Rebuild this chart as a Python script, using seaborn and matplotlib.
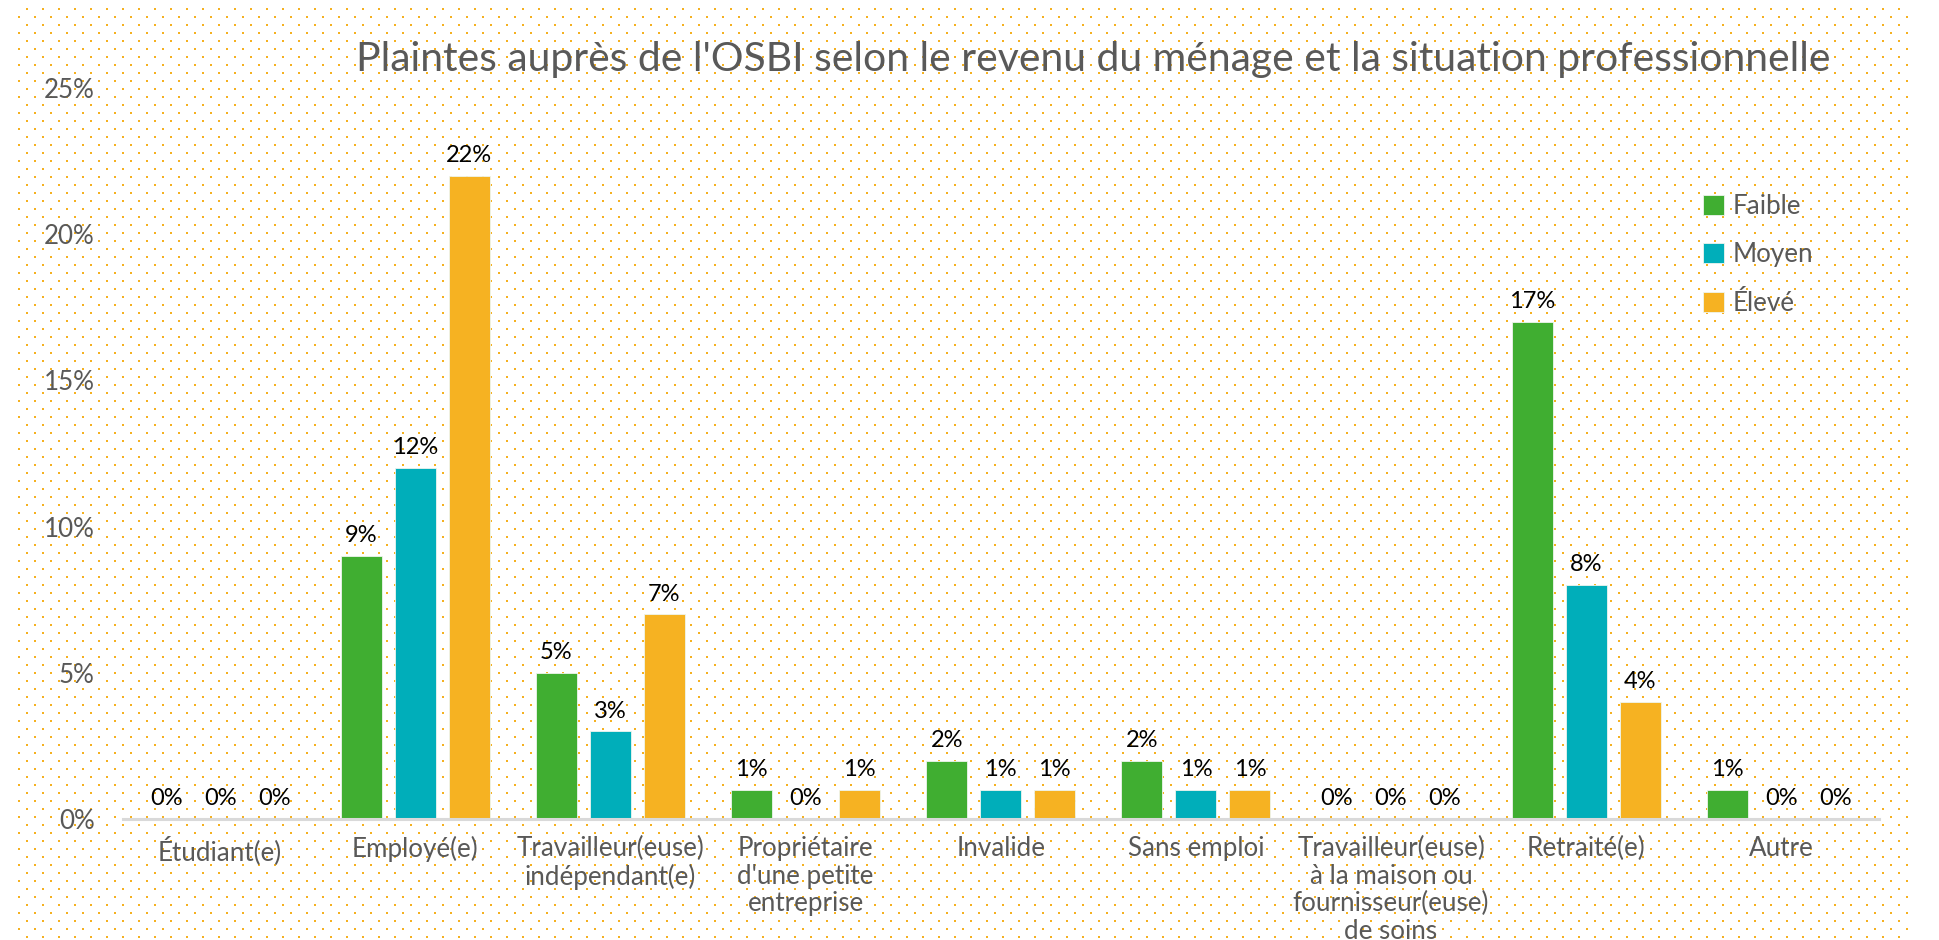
import numpy as np
import pandas as pd
import matplotlib
matplotlib.use("Agg")
import matplotlib.pyplot as plt
import seaborn as sns

# données (%)
categories = ["Étudiant(e)", "Employé(e)", "Travailleur(euse)\nindépendant(e)",
              "Propriétaire\nd'une petite\nentreprise", "Invalide", "Sans emploi",
              "Travailleur(euse)\nà la maison ou\nfournisseur(euse)\nde soins",
              "Retraité(e)", "Autre"]
revenus = ["Faible", "Moyen", "Élevé"]
faible = [0, 9, 5, 1, 2, 2, 0, 17, 1]
moyen = [0, 12, 3, 0, 1, 1, 0, 8, 0]
eleve = [0, 22, 7, 1, 1, 1, 0, 4, 0]
yticks = [0, 5, 10, 15, 20, 25]

couleurs = ["#40AE31", "#00AEBA", "#F6B222"]
gris = "#595959"

df = pd.DataFrame({
    "situation": categories * 3,
    "revenu": [r for r in revenus for _ in categories],
    "pct": faible + moyen + eleve,
})

sns.set_style("white")
plt.rcParams["font.family"] = ["Lato", "DejaVu Sans"]

fig = plt.figure(figsize=(19.39, 9.40), dpi=100)

# fond à pois orange (motif en quinconce)
bg = fig.add_axes([0, 0, 1, 1], zorder=0)
bg.set_xlim(0, 1939)
bg.set_ylim(940, 0)
bg.axis("off")
for x0, y0 in [(26.7, 8.7), (18.7, 16.7)]:
    gx, gy = np.meshgrid(np.arange(x0, 1912, 16), np.arange(y0, 940, 16))
    bg.scatter(gx.ravel(), gy.ravel(), s=2.4, marker="s", color="#F5B120", linewidths=0)

ax = fig.add_axes([0.0632, 0.1287, 0.9058, 0.7777], zorder=1)
ax.patch.set_alpha(0)

sns.barplot(data=df, x="situation", y="pct", hue="revenu", hue_order=revenus,
            palette=couleurs, saturation=1, width=0.83, gap=0.24, ax=ax,
            edgecolor="#EEF5EE", linewidth=0.6)

for cont, vals in zip(ax.containers, [faible, moyen, eleve]):
    ax.bar_label(cont, labels=[f"{v}%" for v in vals], padding=7,
                 fontsize=17, color="black")

ax.set_xlim(-0.5, 8.5)
ax.set_ylim(0, 25)
ax.set_yticks(yticks)
ax.set_yticklabels([f"{t}%" for t in yticks])
ax.tick_params(axis="y", length=0, pad=20, labelsize=18.7, labelcolor=gris)
ax.tick_params(axis="x", length=0, pad=12.5, labelsize=18.7, labelcolor=gris)
for lab in ax.get_xticklabels():
    lab.set_linespacing(1.12)
ax.set_xlabel("")
ax.set_ylabel("")
for s in ["top", "right", "left"]:
    ax.spines[s].set_visible(False)
ax.spines["bottom"].set_color("#D9D9D9")
ax.spines["bottom"].set_linewidth(2.2)

leg = ax.legend(loc="upper left", bbox_to_anchor=(0.9, 0.855), frameon=False,
                fontsize=18.7, labelcolor=gris, handlelength=0.8,
                handleheight=0.8, handletextpad=0.35, labelspacing=0.9,
                borderpad=0, borderaxespad=0)

fig.text(0.564, 0.937, "Plaintes auprès de l'OSBI selon le revenu du ménage et la situation professionnelle",
         ha="center", va="center", fontsize=29.4, color=gris)

plt.savefig("out.png", dpi=100)
